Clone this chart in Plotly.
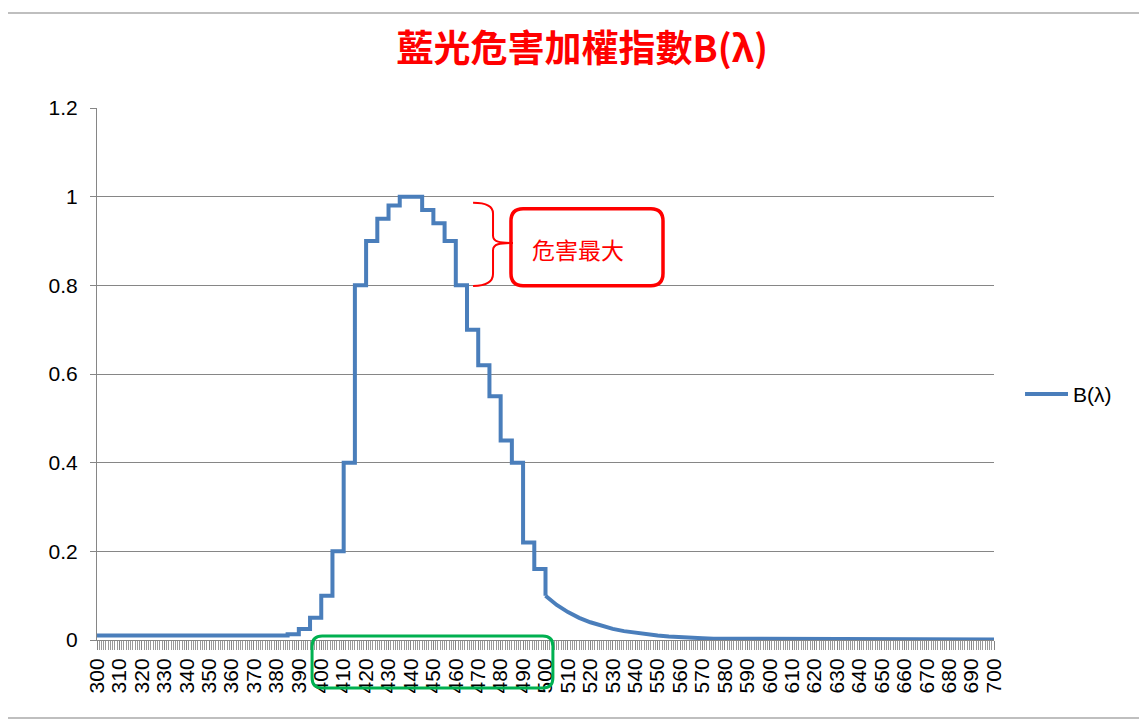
import plotly.graph_objects as go

# wavelength (nm) and blue light hazard weighting B(lambda)
wl_step = list(range(300, 505, 5))
b_step = [0.01, 0.01, 0.01, 0.01, 0.01, 0.01, 0.01, 0.01, 0.01,
          0.01, 0.01, 0.01, 0.01, 0.01, 0.01, 0.01, 0.01,
          0.013, 0.025, 0.05, 0.1, 0.2, 0.4, 0.8, 0.9, 0.95, 0.98,
          1.0, 1.0, 0.97, 0.94, 0.9, 0.8, 0.7, 0.62, 0.55, 0.45,
          0.4, 0.22, 0.16, 0.1]

wl_tail = list(range(500, 705, 5))
b_tail = [0.1, 0.079, 0.063, 0.05, 0.04, 0.032, 0.025, 0.02, 0.016, 0.013,
          0.01, 0.008, 0.006, 0.005, 0.004, 0.003, 0.003, 0.002, 0.002, 0.001,
          0.001, 0.001, 0.001, 0.001, 0.001, 0.001, 0.001, 0.001, 0.001, 0.001,
          0.001, 0.001, 0.001, 0.001, 0.001, 0.001, 0.001, 0.001, 0.001, 0.001,
          0.001]

X_MIN, X_MAX = 300, 700
Y_MAX = 1.2

LINE_BLUE = '#4a7ebb'
GRID = '#868686'
RED = '#ff0000'
GREEN = '#00b050'
NUM_FONT = 'Liberation Sans Narrow, Liberation Sans, sans-serif'
CJK_FONT = 'Noto Sans CJK TC, sans-serif'

# the page body adds an 8px margin, so the figure is a bit smaller
# and its margins are shifted to keep the plot area where it belongs
PAGE_PAD = 8
W, H = 1147 - PAGE_PAD, 722 - PAGE_PAD


def fx(nm):
    return (nm - X_MIN) / (X_MAX - X_MIN)


def fy(v):
    return v / Y_MAX


def rounded_box(x0, x1, y0, y1, rx, ry):
    """SVG path of a rounded rectangle, in axis-domain fractions."""
    a, b, c, d = fx(x0), fx(x1), fy(y0), fy(y1)
    h, k = rx / (X_MAX - X_MIN), ry / Y_MAX
    return (f"M {a + h},{c} L {b - h},{c} Q {b},{c} {b},{c + k} "
            f"L {b},{d - k} Q {b},{d} {b - h},{d} "
            f"L {a + h},{d} Q {a},{d} {a},{d - k} "
            f"L {a},{c + k} Q {a},{c} {a + h},{c} Z")


def brace_path():
    p = [(467.7, 0.986), (474.5, 0.986), (476.6, 0.976), (476.6, 0.962),
         (476.6, 0.912), (476.6, 0.898), (479.5, 0.8956), (485.5, 0.8956),
         (479.5, 0.8956), (476.6, 0.893), (476.6, 0.879),
         (476.6, 0.826), (476.6, 0.810), (474.5, 0.7986), (467.7, 0.7986)]
    q = [(fx(x), fy(y)) for x, y in p]
    s = f"M {q[0][0]},{q[0][1]} C {q[1][0]},{q[1][1]} {q[2][0]},{q[2][1]} {q[3][0]},{q[3][1]} "
    s += f"L {q[4][0]},{q[4][1]} C {q[5][0]},{q[5][1]} {q[6][0]},{q[6][1]} {q[7][0]},{q[7][1]} "
    s += f"C {q[8][0]},{q[8][1]} {q[9][0]},{q[9][1]} {q[10][0]},{q[10][1]} "
    s += f"L {q[11][0]},{q[11][1]} C {q[12][0]},{q[12][1]} {q[13][0]},{q[13][1]} {q[14][0]},{q[14][1]}"
    return s


fig = go.Figure()

fig.add_trace(go.Scatter(
    x=wl_step, y=b_step, mode='lines', name='B(λ)', legendgroup='b',
    line=dict(color=LINE_BLUE, width=4, shape='hv'),
))
fig.add_trace(go.Scatter(
    x=wl_tail, y=b_tail, mode='lines', name='B(λ)', legendgroup='b',
    line=dict(color=LINE_BLUE, width=4),
))

# legend sample drawn by hand so the line is as long as in the original
leg_y = 0.4624
shapes = [
    # outer chart border
    dict(type='rect', xref='paper', yref='paper',
         x0=-0.107, x1=1.168, y0=-0.1466, y1=1.1786,
         line=dict(color='#bfbfbf', width=2), layer='below'),
    # brace next to the peak
    dict(type='path', xref='x domain', yref='y domain', path=brace_path(),
         line=dict(color=RED, width=2)),
    # red callout box
    dict(type='path', xref='x domain', yref='y domain',
         path=rounded_box(484.6, 552.4, 0.799, 0.973, 5.4, 0.028),
         line=dict(color=RED, width=3.5)),
    # green box around the 400-500 nm labels
    dict(type='path', xref='x domain', yref='y domain',
         path=rounded_box(395.9, 503.3, -0.108, 0.009, 4.5, 0.023),
         line=dict(color=GREEN, width=3)),
    # legend line
    dict(type='line', xref='paper', yref='paper',
         x0=1.0346, x1=1.0825, y0=leg_y, y1=leg_y,
         line=dict(color=LINE_BLUE, width=4)),
]

fig.update_layout(
    width=W, height=H,
    margin=dict(l=97 - PAGE_PAD, r=153, t=108 - PAGE_PAD, b=82),
    paper_bgcolor='white', plot_bgcolor='white',
    font=dict(family=NUM_FONT, size=21, color='#000000'),
    title=dict(
        text='<b>藍光危害加權指數B(λ)</b>',
        font=dict(family=CJK_FONT, size=37, color=RED),
        xref='paper', x=0.541, xanchor='center',
        yref='container', y=1 - (49 - PAGE_PAD) / H, yanchor='middle',
    ),
    showlegend=False,
    shapes=shapes,
    annotations=[
        dict(xref='x domain', yref='y domain', x=fx(514.5), y=fy(0.882),
             xanchor='center', yanchor='middle',
             text='危害最大', showarrow=False,
             font=dict(family=CJK_FONT, size=23, color=RED)),
        dict(xref='paper', yref='paper', x=1.0859, y=leg_y,
             xanchor='left', yanchor='middle',
             text='B(λ)', showarrow=False,
             font=dict(family=NUM_FONT, size=21, color='#000000')),
    ],
)

fig.update_xaxes(
    range=[X_MIN, X_MAX], tickmode='linear', tick0=300, dtick=10,
    tickangle=-90, ticks='outside', ticklen=9, tickcolor=GRID, tickwidth=1,
    showline=True, linecolor=GRID, linewidth=1,
    showgrid=False, zeroline=False,
    minor=dict(dtick=1, tick0=300, ticks='outside', ticklen=9,
               tickcolor='#9a9a9a', tickwidth=1, showgrid=False),
)
fig.update_yaxes(
    range=[0, Y_MAX], tickmode='linear', tick0=0, dtick=0.2,
    ticks='outside', ticklen=6, tickcolor=GRID,
    showline=True, linecolor=GRID, linewidth=1,
    showgrid=True, gridcolor=GRID, gridwidth=1, zeroline=False,
    ticklabelstandoff=8,
)

fig.write_html("out.html")
